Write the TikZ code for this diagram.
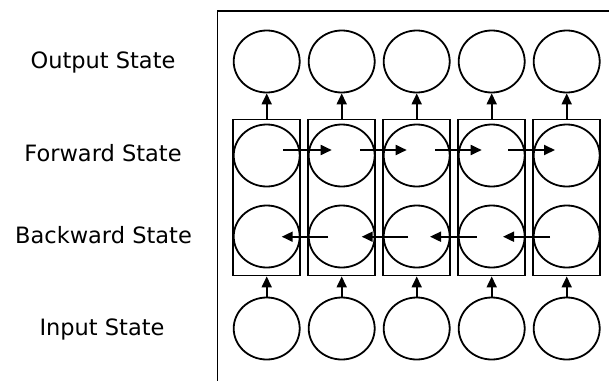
\documentclass[tikz,border=0pt]{standalone}
\usepackage{fontspec}
\setmainfont{DejaVu Sans}
\usetikzlibrary{shapes.geometric,arrows.meta}
\begin{document}
\begin{tikzpicture}[x=1pt,y=-1pt,
  line width=1.8pt,
  unit/.style={draw,ellipse,minimum width=66pt,minimum height=62pt,inner sep=0pt},
  cellbox/.style={draw,rectangle,minimum width=67pt,minimum height=156pt,inner sep=0pt},
  lbl/.style={font=\fontsize{22.5}{22.5}\selectfont,text height=16.4pt,text depth=0pt,inner sep=0pt},
  arr/.style={-{Triangle[length=11pt,width=10pt]}}]
\useasboundingbox (0,0) rectangle (609,380);
% frame (cut off at right and bottom)
\draw (217.5,400) -- (217.5,11) -- (640,11);
% labels
\node[lbl] (lo) at (103,60) {Output State};
\node[lbl] (lf) at (103,153.5) {Forward State};
\node[lbl] (lb) at (103.5,235.5) {Backward State};
\node[lbl] (li) at (102,327) {Input State};
% columns
\foreach \i/\cx in {1/266.7,2/341.7,3/416.7,4/491.7,5/566.7}{
  \node[cellbox] (b\i) at (\cx,197.5) {};
  \node[unit] (o\i) at (\cx,61.5) {};
  \node[unit] (f\i) at (\cx,155.5) {};
  \node[unit] (k\i) at (\cx,236.5) {};
  \node[unit] (n\i) at (\cx,328.5) {};
  \draw[arr] (b\i.north) -- (o\i.south);
  \draw[arr] (n\i.north) -- (b\i.south);
}
% forward arrows
\foreach \j/\s/\e in {1/283/331.7,2/360/406.7,3/435/481.7,4/508/555}{
  \coordinate (fs\j) at (\s,150);
  \coordinate (fe\j) at (\e,150);
  \draw[arr] (fs\j) -- (fe\j);
}
% backward arrows
\foreach \j/\s/\e in {1/328/281.7,2/408/361.7,3/476.7/430,4/550/503}{
  \coordinate (bs\j) at (\s,236.7);
  \coordinate (be\j) at (\e,236.7);
  \draw[arr] (bs\j) -- (be\j);
}
\end{tikzpicture}
\end{document}
